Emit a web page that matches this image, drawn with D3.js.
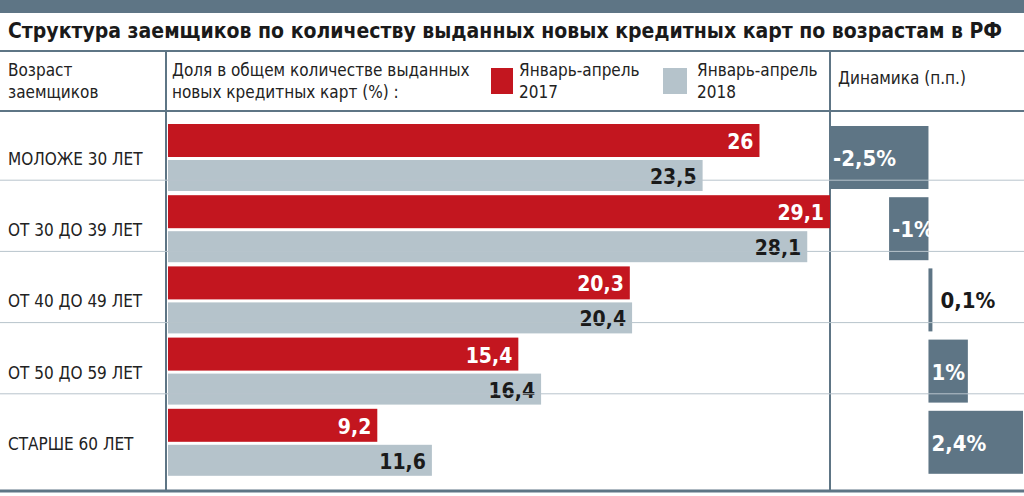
<!doctype html>
<html lang="ru">
  <head>
    <meta charset="utf-8">
    <style>
      body { margin: 0; background: #fff; }
      svg text { font-family: "Liberation Sans Narrow", "DejaVu Sans Condensed", "Roboto", sans-serif; }
    </style>
  </head>
  <body>
    <svg id="chart" width="1024" height="496"></svg>
    <script src="https://cdn.jsdelivr.net/npm/d3@7"></script>
    <script>
      const ages = ['МОЛОЖЕ 30 ЛЕТ', 'ОТ 30 ДО 39 ЛЕТ', 'ОТ 40 ДО 49 ЛЕТ', 'ОТ 50 ДО 59 ЛЕТ', 'СТАРШЕ 60 ЛЕТ']
      const y2017 = [26, 29.1, 20.3, 15.4, 9.2]
      const y2018 = [23.5, 28.1, 20.4, 16.4, 11.6]
      const change = [-2.5, -1, 0.1, 1, 2.4]
      const changeLabels = ['-2,5%', '-1%', '0,1%', '1%', '2,4%']

      const slate = '#5e7585', red = '#c3161f', grey = '#b5c3cb'
      const svg = d3.select('#chart')
      const fmt = v => String(v).replace('.', ',')

      svg.append('rect').attr('width', 1024).attr('height', 13).attr('fill', slate)
      svg.append('text').attr('x', 8).attr('y', 38)
        .attr('font-size', 21).attr('font-weight', 'bold').attr('fill', '#1a1a1a')
        .text('Структура заемщиков по количеству выданных новых кредитных карт по возрастам в РФ')

      const line = (x1, y1, x2, y2, w) => svg.append('line')
        .attr('x1', x1).attr('y1', y1).attr('x2', x2).attr('y2', y2)
        .attr('stroke', slate).attr('stroke-width', w || 2)

      line(0, 51, 1024, 51)
      line(0, 111, 1024, 111)
      line(0, 491, 1024, 491, 3)
      line(166, 51, 166, 491)
      line(830, 51, 830, 491)

      const head = (x, y, lines, size) => {
        const t = svg.append('text').attr('x', x).attr('y', y).attr('font-size', size || 17).attr('fill', '#222')
        lines.forEach((l, i) => t.append('tspan').attr('x', x).attr('dy', i ? 22 : 0).text(l))
      }
      head(8, 76, ['Возраст', 'заемщиков'])
      head(172, 76, ['Доля в общем количестве выданных', 'новых кредитных карт (%) :'])
      svg.append('rect').attr('x', 491).attr('y', 68).attr('width', 22).attr('height', 26).attr('fill', red)
      head(519, 76, ['Январь-апрель', '2017'])
      svg.append('rect').attr('x', 663).attr('y', 68).attr('width', 24).attr('height', 26).attr('fill', grey)
      head(697, 76, ['Январь-апрель', '2018'])
      head(838, 84, ['Динамика (п.п.)'])

      const row = d3.scaleBand().domain(ages).range([111, 467]).paddingInner(0)
      const x = d3.scaleLinear().domain([0, 29.1]).range([168, 830])
      const dx = d3.scaleLinear().domain([-2.5, 2.4]).range([830, 1023])

      ages.forEach((a, i) => {
        const top = row(a)
        if (i > 0) svg.append('line').attr('x1', 0).attr('x2', 1024).attr('y1', top - 2).attr('y2', top - 2)
          .attr('stroke', '#b8c4cc').attr('stroke-width', 1)
        svg.append('text').attr('x', 8).attr('y', top + 54).attr('font-size', 17).attr('fill', '#222').text(a)

        svg.append('rect').attr('x', x(0)).attr('y', top + 13).attr('width', x(y2017[i]) - x(0)).attr('height', 33).attr('fill', red)
        svg.append('text').attr('x', x(y2017[i]) - 6).attr('y', top + 38).attr('text-anchor', 'end')
          .attr('font-size', 21).attr('font-weight', 'bold').attr('fill', '#fff').text(fmt(y2017[i]))
        svg.append('rect').attr('x', x(0)).attr('y', top + 49).attr('width', x(y2018[i]) - x(0)).attr('height', 31).attr('fill', grey)
        svg.append('text').attr('x', x(y2018[i]) - 6).attr('y', top + 73).attr('text-anchor', 'end')
          .attr('font-size', 21).attr('font-weight', 'bold').attr('fill', '#1a1a1a').text(fmt(y2018[i]))

        const v = change[i]
        const x0 = Math.min(dx(0), dx(v))
        const w = Math.max(3, Math.abs(dx(v) - dx(0)))
        svg.append('rect').attr('x', x0).attr('y', top + 15).attr('width', w).attr('height', 63).attr('fill', slate)
        const small = w < 20
        svg.append('text').attr('x', small ? x0 + w + 8 : x0 + 3).attr('y', top + 55)
          .attr('font-size', 22).attr('font-weight', 'bold').attr('fill', small ? '#1a1a1a' : '#fff')
          .text(changeLabels[i])
      })
    </script>
  </body>
</html>
